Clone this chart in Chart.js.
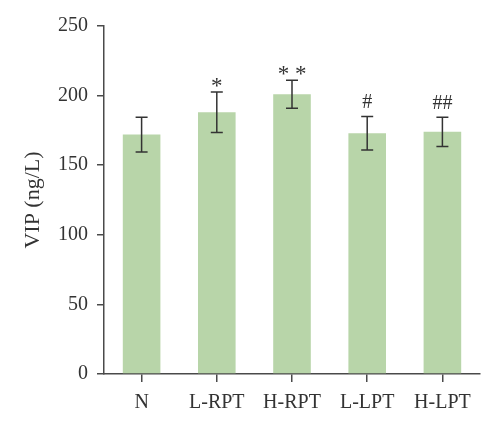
<!DOCTYPE html>
<html>
<head>
<meta charset="utf-8">
<script src="https://cdn.jsdelivr.net/npm/chart.js@4.4.0/dist/chart.umd.min.js"></script>
<style>
    html, body { margin: 0; padding: 0; background: #fff; }
    #wrap { width: 500px; height: 428px; position: relative; }
</style>
</head>
<body>
<div id="wrap"><canvas id="vip-chart"></canvas></div>
<script>
const groups = ['N', 'L-RPT', 'H-RPT', 'L-LPT', 'H-LPT'];
const vipMeans = [172, 188, 201, 173, 174];
const vipErrors = [12.5, 14.5, 10, 12, 10.5];
const marks = ['', '*', '**', '#', '##'];
const yTicks = [0, 50, 100, 150, 200, 250];

const serif = '"Liberation Serif", "Times New Roman", serif';
const axisColor = '#4a4a4a';

// error bars + significance marks, drawn on top of the bars
const errorBarPlugin = {
    id: 'errorBars',
    afterDatasetsDraw(chart) {
        const ctx = chart.ctx;
        const x = chart.scales.x;
        const y = chart.scales.y;
        ctx.save();
        ctx.strokeStyle = '#333';
        ctx.lineWidth = 1.5;
        vipMeans.forEach((v, i) => {
            const cx = x.getPixelForValue(i);
            const top = y.getPixelForValue(v + vipErrors[i]);
            const bot = y.getPixelForValue(v - vipErrors[i]);
            ctx.beginPath();
            ctx.moveTo(cx, top); ctx.lineTo(cx, bot);
            ctx.moveTo(cx - 6, top); ctx.lineTo(cx + 6, top);
            ctx.moveTo(cx - 6, bot); ctx.lineTo(cx + 6, bot);
            ctx.stroke();

            if (marks[i]) {
                ctx.fillStyle = '#333';
                ctx.textAlign = 'center';
                ctx.textBaseline = 'alphabetic';
                const isStar = marks[i].startsWith('*');
                if (isStar) {
                    ctx.font = '23px ' + serif;
                    ctx.fillText(marks[i].split('').join(' '), cx, top + 1);
                } else {
                    ctx.font = '20px ' + serif;
                    ctx.fillText(marks[i], cx, top - 8);
                }
            }
        });
        ctx.restore();
    }
};

const config = {
    type: 'bar',
    data: {
        labels: groups,
        datasets: [{
            label: 'VIP',
            data: vipMeans,
            backgroundColor: '#b8d5a9',
            borderWidth: 0,
            barPercentage: 0.5,
            categoryPercentage: 1
        }]
    },
    options: {
        responsive: true,
        maintainAspectRatio: false,
        animation: false,
        layout: {
            padding: { top: 26, right: 20, left: 16, bottom: 0 }
        },
        plugins: {
            legend: { display: false },
            tooltip: { enabled: false }
        },
        scales: {
            x: {
                grid: {
                    display: true,
                    drawOnChartArea: false,
                    drawTicks: true,
                    tickLength: 8,
                    offset: false,
                    color: axisColor,
                    lineWidth: 1.5
                },
                border: { display: true, color: axisColor, width: 1.5 },
                ticks: {
                    color: '#333',
                    padding: 9,
                    font: { family: serif, size: 20 }
                },
                afterFit: (scale) => { scale.height = 54; }
            },
            y: {
                min: 0,
                max: 250,
                afterBuildTicks: (scale) => {
                    scale.ticks = yTicks.map(v => ({ value: v }));
                },
                grid: {
                    display: true,
                    drawOnChartArea: false,
                    drawTicks: true,
                    tickLength: 7,
                    color: axisColor,
                    lineWidth: 1.5
                },
                border: { display: true, color: axisColor, width: 1.5 },
                ticks: {
                    color: '#333',
                    padding: 9,
                    font: { family: serif, size: 20 }
                },
                title: {
                    display: true,
                    text: 'VIP (ng/L)',
                    color: '#333',
                    padding: { top: 4, bottom: 0 },
                    font: { family: serif, size: 22 }
                },
                afterFit: (scale) => { scale.width = 88; }
            }
        }
    },
    plugins: [errorBarPlugin]
};

new Chart(document.getElementById('vip-chart'), config);
</script>
</body>
</html>
